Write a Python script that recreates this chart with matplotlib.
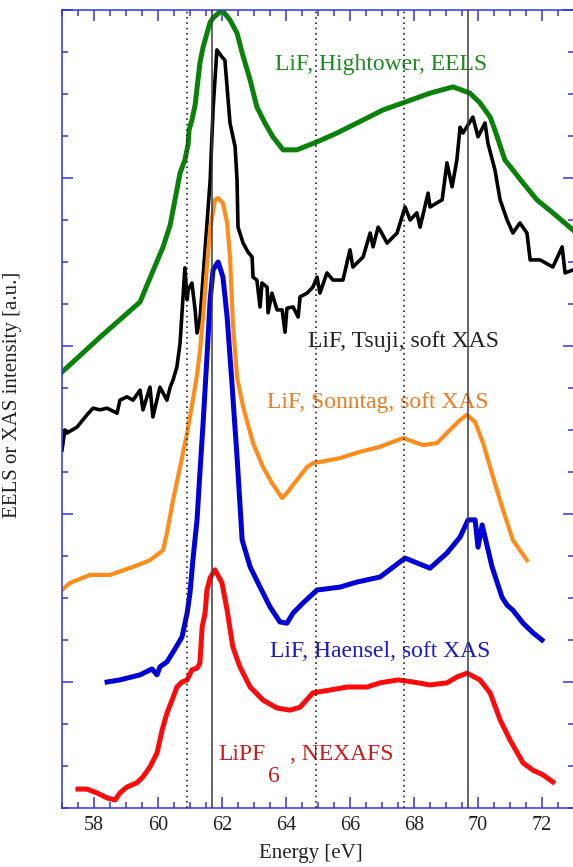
import matplotlib
matplotlib.use("Agg")
import matplotlib.pyplot as plt
from matplotlib.ticker import MultipleLocator, NullFormatter

plt.rcParams['font.family'] = ['Liberation Serif', 'DejaVu Serif']

# LiF, Hightower, EELS
e_green = [57.00, 58.19, 59.44, 59.75, 60.16, 60.38, 60.53, 60.69, 60.84, 60.94, 60.97,
           61.06, 61.16, 61.31, 61.41, 61.63, 61.72, 62.00, 62.25, 62.47, 62.63, 62.88,
           63.09, 63.34, 63.59, 63.91, 64.34, 64.97, 65.59, 66.22, 67.03, 67.66, 68.50,
           69.22, 69.75, 70.06, 70.38, 70.53, 70.84, 71.09, 71.41, 71.84, 72.34, 72.97]
i_green = [10.38, 11.21, 12.05, 12.62, 13.36, 13.88, 14.48, 15.12, 15.43, 15.79, 16.14,
           16.38, 16.74, 17.74, 18.12, 18.71, 18.81, 19.00, 18.76, 18.45, 17.98, 17.33,
           16.69, 16.31, 15.98, 15.67, 15.67, 15.86, 16.07, 16.31, 16.62, 16.79, 17.02,
           17.17, 17.02, 16.79, 16.45, 16.14, 15.43, 15.19, 14.88, 14.48, 14.17, 13.76]

# LiF, Tsuji, soft XAS
e_black = [57.00, 57.09, 57.16, 57.47, 57.78, 57.97, 58.19, 58.41, 58.72, 58.81, 59.03,
           59.22, 59.44, 59.53, 59.75, 59.84, 60.06, 60.28, 60.38, 60.47, 60.59, 60.69,
           60.75, 60.84, 60.91, 60.94, 61.06, 61.16, 61.22, 61.31, 61.47, 61.63, 61.72,
           61.84, 62.00, 62.09, 62.25, 62.41, 62.47, 62.50, 62.66, 62.81, 62.94, 62.97,
           63.09, 63.19, 63.25, 63.41, 63.44, 63.56, 63.72, 63.88, 63.97, 64.03, 64.22,
           64.38, 64.44, 64.66, 64.84, 64.97, 65.06, 65.28, 65.47, 65.78, 66.00, 66.09,
           66.41, 66.63, 66.72, 66.88, 66.94, 67.16, 67.47, 67.72, 67.88, 68.09, 68.19,
           68.44, 68.50, 68.88, 69.03, 69.19, 69.34, 69.44, 69.53, 69.84, 70.00, 70.22,
           70.31, 70.53, 70.69, 70.91, 71.09, 71.31, 71.53, 71.63, 71.94, 72.34, 72.63,
           72.72, 72.97]
i_black = [8.52, 9.00, 8.93, 9.07, 9.36, 9.52, 9.48, 9.52, 9.40, 9.71, 9.79,
           9.71, 9.95, 9.48, 10.02, 9.31, 10.02, 9.71, 10.02, 10.19, 10.50, 11.07,
           11.79, 12.86, 12.10, 12.33, 12.50, 11.86, 11.31, 11.62, 13.29, 14.95, 16.62,
           18.05, 17.88, 17.81, 16.31, 15.74, 14.95, 13.83, 13.45, 13.24, 13.12, 12.64,
           12.57, 11.93, 12.50, 12.40, 11.79, 12.26, 11.86, 11.86, 11.33, 11.90, 11.93,
           11.69, 12.17, 12.26, 12.40, 12.64, 12.26, 12.74, 12.57, 12.57, 13.29, 12.88,
           13.12, 13.69, 13.36, 13.83, 13.76, 13.45, 13.69, 14.31, 14.00, 14.17, 13.83,
           14.64, 14.31, 14.48, 15.36, 14.79, 15.43, 16.21, 16.07, 16.45, 15.98, 16.31,
           15.83, 15.19, 14.48, 14.00, 13.69, 13.93, 13.69, 13.05, 13.05, 12.88, 13.36,
           12.74, 12.81]

# LiF, Sonntag, soft XAS
e_orange = [57.00, 57.25, 57.88, 58.50, 59.22, 59.75, 60.16, 60.28, 60.47, 60.69, 60.91,
            61.09, 61.22, 61.31, 61.41, 61.53, 61.63, 61.78, 61.88, 62.03, 62.16, 62.25,
            62.34, 62.47, 62.66, 62.97, 63.28, 63.56, 63.88, 64.03, 64.34, 64.66, 64.84,
            65.06, 65.69, 66.31, 66.94, 67.66, 68.28, 68.72, 69.03, 69.44, 69.66, 69.91,
            70.16, 70.47, 70.78, 71.09, 71.53]
i_orange = [5.19, 5.36, 5.55, 5.55, 5.74, 5.90, 6.14, 6.55, 7.33, 8.12, 8.93,
            9.71, 10.31, 10.88, 11.71, 12.90, 13.79, 14.48, 14.52, 14.40, 13.93, 13.12,
            11.55, 10.26, 9.55, 8.69, 8.12, 7.74, 7.38, 7.50, 7.81, 8.12, 8.21,
            8.24, 8.33, 8.48, 8.60, 8.81, 8.64, 8.69, 8.93, 9.24, 9.36, 9.19,
            8.69, 7.88, 7.10, 6.38, 5.90]

# LiF, Haensel, soft XAS
e_blue = [58.41, 58.81, 59.44, 59.81, 59.97, 60.06, 60.28, 60.47, 60.75, 60.91, 61.00,
          61.09, 61.22, 61.31, 61.41, 61.53, 61.63, 61.72, 61.88, 62.03, 62.16, 62.31,
          62.47, 62.63, 62.88, 63.19, 63.50, 63.81, 64.03, 64.22, 64.53, 64.97, 65.69,
          66.22, 66.94, 67.72, 68.50, 69.03, 69.44, 69.69, 69.91, 70.00, 70.13, 70.44,
          70.75, 70.91, 71.09, 71.41, 71.72, 72.00]
i_blue = [3.00, 3.05, 3.17, 3.31, 3.17, 3.36, 3.48, 3.71, 4.07, 4.64, 5.12,
          5.90, 6.86, 7.98, 9.17, 10.74, 12.10, 12.81, 13.00, 12.64, 11.69, 10.12,
          8.36, 6.38, 5.74, 5.26, 4.79, 4.43, 4.40, 4.64, 4.88, 5.19, 5.26,
          5.38, 5.50, 5.95, 5.71, 6.07, 6.45, 6.86, 6.86, 6.21, 6.74, 5.74,
          5.02, 4.83, 4.71, 4.40, 4.17, 4.00]

# LiPF6, NEXAFS
e_red = [57.50, 57.78, 58.09, 58.41, 58.66, 58.81, 59.03, 59.34, 59.53, 59.75, 59.97,
         60.13, 60.28, 60.44, 60.59, 60.75, 60.91, 61.06, 61.22, 61.31, 61.38, 61.47,
         61.53, 61.63, 61.78, 62.00, 62.16, 62.34, 62.56, 62.88, 63.28, 63.72, 64.13,
         64.44, 64.84, 65.38, 65.91, 66.53, 66.94, 67.50, 67.97, 68.50, 69.03, 69.34,
         69.66, 70.06, 70.38, 70.69, 71.00, 71.41, 71.72, 72.03, 72.34]
i_red = [0.45, 0.45, 0.36, 0.24, 0.19, 0.36, 0.50, 0.60, 0.74, 0.98, 1.31,
         1.86, 2.26, 2.57, 2.88, 3.00, 3.05, 3.29, 3.33, 3.45, 4.31, 4.64,
         5.19, 5.48, 5.67, 5.36, 4.71, 3.83, 3.36, 2.88, 2.57, 2.38, 2.33,
         2.40, 2.74, 2.81, 2.88, 2.88, 2.98, 3.05, 3.00, 2.93, 2.98, 3.12,
         3.21, 3.05, 2.74, 2.10, 1.62, 1.07, 0.90, 0.79, 0.62]

dotted_lines = [60.9, 64.95, 67.7]
solid_lines = [61.7, 69.7]

frame = '#3232e6'

fig = plt.figure(figsize=(5.73, 8.67), dpi=100)
ax = fig.add_axes([62 / 573, 59 / 867, 512 / 573, 798 / 867])

ax.plot(e_green, i_green, color='#0a820a', lw=3.6, solid_joinstyle='round')
ax.plot(e_black, i_black, color='black', lw=2.6, solid_joinstyle='round')
ax.plot(e_orange, i_orange, color='#ff8c1a', lw=3.0, solid_joinstyle='round')
ax.plot(e_blue, i_blue, color='#0000d8', lw=3.6, solid_joinstyle='round')
ax.plot(e_red, i_red, color='#ff0a0a', lw=3.6, solid_joinstyle='round')

for x in dotted_lines:
    ax.axvline(x, color='#222222', lw=1.2, ls=(0, (1, 2.2)), zorder=5)
for x in solid_lines:
    ax.axvline(x, color='#3a3a3a', lw=1.1, zorder=5)

txt = dict(fontsize=17, ha='left', va='baseline')
ax.text(63.66, 17.57, 'LiF, Hightower, EELS', color='#1b8a1b', **txt)
ax.text(64.69, 10.98, 'LiF, Tsuji, soft XAS', color='#222222', **txt)
ax.text(63.41, 9.52, 'LiF, Sonntag, soft XAS', color='#f07a20', **txt)
ax.text(63.50, 3.60, 'LiF, Haensel, soft XAS', color='#1818d0', **txt)
ax.text(61.88, 1.14, 'LiPF', color='#d01818', **txt)
ax.text(63.44, 0.62, '6', color='#d01818', **txt)
ax.text(64.13, 1.14, ', NEXAFS', color='#d01818', **txt)

ax.set_xlim(57, 73)
ax.set_ylim(0, 19)
ax.xaxis.set_major_locator(MultipleLocator(2))
ax.xaxis.set_minor_locator(MultipleLocator(0.5))
ax.yaxis.set_major_locator(MultipleLocator(4, offset=3))
ax.yaxis.set_minor_locator(MultipleLocator(1))
ax.yaxis.set_major_formatter(NullFormatter())

ax.tick_params(which='both', direction='in', top=True, right=True, color=frame,
               width=1.1, labelsize=14.5, labelcolor='#222222')
ax.tick_params(which='major', length=8, pad=6)
ax.tick_params(which='minor', length=4.5)
for s in ax.spines.values():
    s.set_color(frame)
    s.set_linewidth(1.1)

ax.set_xlabel('Energy [eV]', fontsize=15, color='#222222')
ax.xaxis.set_label_coords(0.485, -0.045)
ax.set_ylabel('EELS or XAS intensity [a.u.]', fontsize=15, color='#222222')
ax.yaxis.set_label_coords(-0.078, 0.518)

plt.savefig('out.png', dpi=100)
